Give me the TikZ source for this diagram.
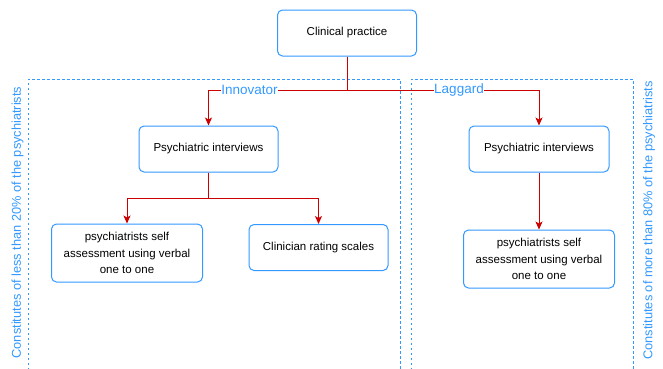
\documentclass[tikz,border=0pt]{standalone}
\usepackage{fontspec}
\setmainfont{Liberation Sans}
\usetikzlibrary{arrows.meta}
\definecolor{bblue}{HTML}{3399FF}
\definecolor{rred}{HTML}{CC0000}
\begin{document}
\begin{tikzpicture}[x=1pt,y=-1pt,
  box/.style={draw=bblue,line width=1pt,rounded corners=5pt,fill=white,align=center,inner sep=0pt,font=\fontsize{11.5}{16.5}\selectfont},
  conn/.style={draw=rred,line width=0.9pt,-{Stealth[length=8pt,width=7pt,inset=2pt]}},
  lbl/.style={fill=white,text=bblue,inner sep=0.5pt,font=\fontsize{13.5}{16}\selectfont},
  vtxt/.style={text=bblue,rotate=90,inner sep=0pt,font=\fontsize{12.8}{15}\selectfont},
  zone/.style={draw=bblue,line width=1pt,dash pattern=on 2.5pt off 2.5pt}]
\useasboundingbox (0,0) rectangle (663,368);
% zones
\draw[zone] (28,370) -- (28,79) -- (400,79) -- (400,370);
\draw[zone] (411,370) -- (411,79) -- (633,79) -- (633,370);
% nodes
\node[box,minimum width=139pt,minimum height=46pt] (cp) at (347,33) {Clinical practice};
\node[box,minimum width=139pt,minimum height=46pt] (pil) at (208.5,149) {Psychiatric interviews};
\node[box,minimum width=140pt,minimum height=46pt] (pir) at (539,149) {Psychiatric interviews};
\node[box,minimum width=151pt,minimum height=58pt] (sal) at (127,253) {psychiatrists self\\assessment using verbal\\one to one};
\node[box,minimum width=139pt,minimum height=46pt] (crs) at (318.5,247.5) {Clinician rating scales};
\node[box,minimum width=151pt,minimum height=58pt] (sar) at (539,259) {psychiatrists self\\assessment using verbal\\one to one};
% junctions
\coordinate (j1) at (347,90);
\coordinate (j2) at (208.5,198);
% connectors
\draw[conn] (cp.south) -- (j1) -| (pil.north);
\draw[conn] (cp.south) -- (j1) -| (pir.north);
\draw[conn] (pil.south) -- (j2) -| (sal.north);
\draw[conn] (pil.south) -- (j2) -| (crs.north);
\draw[conn] (pir.south) -- (sar.north);
% labels
\node[lbl] (inn) at (249.5,90) {Innovator};
\node[lbl] (lag) at (459,90) {Laggard};
\node[vtxt] (vl) at (17.5,222.5) {Constitutes of less than 20\% of the psychiatrists};
\node[vtxt] (vr) at (649,220.5) {Constitutes of more than 80\% of the psychiatrists};
\end{tikzpicture}
\end{document}
